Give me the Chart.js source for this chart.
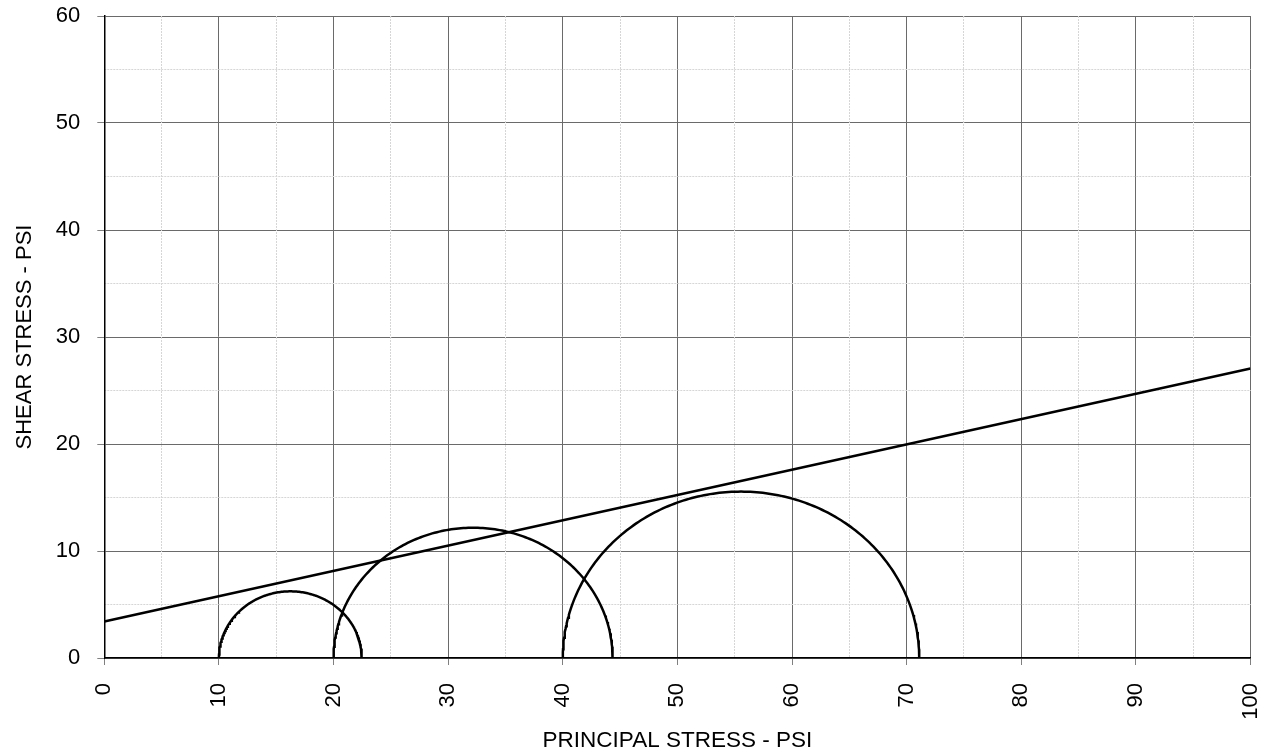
<!DOCTYPE html>
<html><head><meta charset="utf-8">
<script src="https://cdn.jsdelivr.net/npm/chart.js@4"></script>
<style>html,body{margin:0;padding:0;background:#fff}#wrap{width:1268px;height:756px}</style>
</head><body><div id="wrap"><canvas id="c" width="1268" height="756"></canvas></div>
<script>
// Mohr circles: minor (sigma3) and major (sigma1) principal stresses, psi
const sigma3 = [10, 20, 40];
const sigma1 = [22.46, 44.35, 71.1];
// Failure envelope end points
const envelopeX = [0, 100];
const envelopeY = [3.42, 27.05];
const xTickValues = [0, 10, 20, 30, 40, 50, 60, 70, 80, 90, 100];
const yTickValues = [0, 10, 20, 30, 40, 50, 60];

const FONT = 'Liberation Sans, Arial, sans-serif';

function semicircle(s3, s1) {
  const c = (s1 + s3) / 2, r = (s1 - s3) / 2, pts = [];
  const n = 180;
  for (let k = 0; k <= n; k++) {
    const t = Math.PI - Math.PI * k / n;
    pts.push({x: c + r * Math.cos(t), y: r * Math.sin(t)});
  }
  return pts;
}

const datasets = sigma3.map((s3, i) => ({
  label: 'Circle ' + (i + 1),
  data: semicircle(s3, sigma1[i]),
  showLine: true, borderColor: '#000', borderWidth: 2.5,
  pointRadius: 0, fill: false, tension: 0
}));
datasets.push({
  label: 'Envelope',
  data: envelopeX.map((x, i) => ({x: x, y: envelopeY[i]})),
  showLine: true, borderColor: '#000', borderWidth: 2.5,
  pointRadius: 0, fill: false
});

function noEdgePadding(s) {
  s.paddingTop = 0; s.paddingBottom = 0; s.paddingLeft = 0; s.paddingRight = 0;
}

new Chart(document.getElementById('c'), {
  type: 'scatter',
  data: {datasets: datasets},
  options: {
    responsive: false, animation: false,
    layout: {padding: {top: 16, right: 17.5, left: 12, bottom: 2}},
    plugins: {legend: {display: false}, tooltip: {enabled: false}},
    scales: {
      x: {
        type: 'linear', min: 0, max: 100, position: 'bottom',
        afterBuildTicks: s => { s.ticks = xTickValues.map(v => ({value: v})); },
        afterFit: s => { s.height = 96; noEdgePadding(s); },
        ticks: {autoSkip: false, minRotation: 90, maxRotation: 90, color: '#000',
                font: {family: FONT, size: 22}, padding: 18},
        grid: {color: '#6a6a6a', tickColor: '#808080', tickLength: 7, lineWidth: 1},
        border: {color: '#000', width: 1.5},
        title: {display: true, text: 'PRINCIPAL STRESS - PSI', color: '#000',
                font: {family: FONT, size: 22.5}, padding: {top: 0, bottom: 0}}
      },
      y: {
        type: 'linear', min: 0, max: 60, position: 'left',
        afterBuildTicks: s => { s.ticks = yTickValues.map(v => ({value: v})); },
        afterFit: s => { s.width = 92.3; noEdgePadding(s); },
        ticks: {color: '#000', font: {family: FONT, size: 22}, padding: 17},
        grid: {color: '#6a6a6a', tickColor: '#808080', tickLength: 7, lineWidth: 1},
        border: {color: '#000', width: 1.5},
        title: {display: true, text: 'SHEAR STRESS - PSI', color: '#000',
                font: {family: FONT, size: 22}, padding: {top: 0, bottom: 0}}
      },
      xMinor: {
        type: 'linear', min: 0, max: 100, position: 'top',
        afterFit: s => { s.height = 0; noEdgePadding(s); },
        ticks: {display: false, stepSize: 5},
        grid: {color: c => (c.tick && c.tick.value % 10 !== 0) ? '#d6d6d6' : 'rgba(0,0,0,0)',
               drawTicks: false, lineWidth: 1},
        border: {display: false, dash: [2, 1]}
      },
      yMinor: {
        type: 'linear', min: 0, max: 60, position: 'right',
        afterFit: s => { s.width = 0; noEdgePadding(s); },
        ticks: {display: false, stepSize: 5},
        grid: {color: c => (c.tick && c.tick.value % 10 !== 0) ? '#d6d6d6' : 'rgba(0,0,0,0)',
               drawTicks: false, lineWidth: 1},
        border: {display: false, dash: [2, 1]}
      }
    }
  }
});
</script></body></html>
